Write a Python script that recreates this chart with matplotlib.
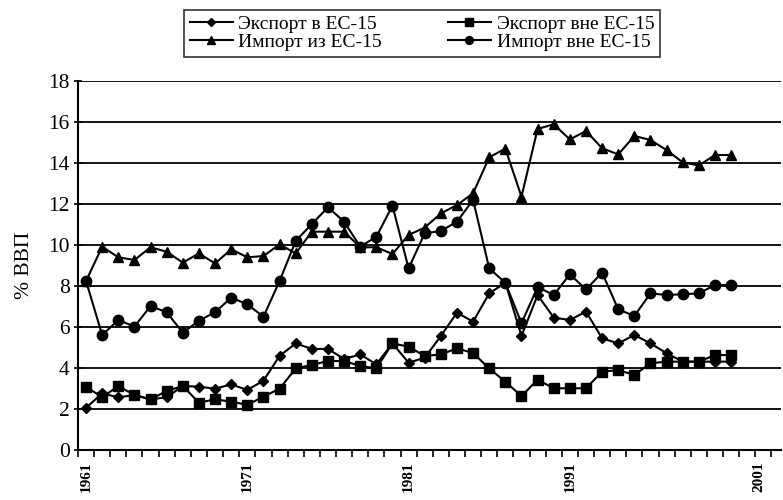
import matplotlib
matplotlib.use("Agg")
import matplotlib.pyplot as plt
from matplotlib.ticker import FixedLocator, MultipleLocator

plt.rcParams['font.family'] = ['Liberation Serif', 'DejaVu Serif']

years = list(range(1961, 2002))

export_in_eu = [2.06, 2.76, 2.57, 2.68, 2.47, 2.57, 3.12, 3.09, 2.99, 3.20,
                2.93, 3.38, 4.59, 5.20, 4.93, 4.93, 4.44, 4.66, 4.18, 5.20,
                4.26, 4.50, 5.56, 6.70, 6.26, 7.64, 8.16, 5.56, 7.56, 6.46,
                6.34, 6.75, 5.45, 5.20, 5.61, 5.20, 4.72, 4.31, 4.31, 4.31,
                4.31]
export_out_eu = [3.09, 2.57, 3.12, 2.68, 2.47, 2.88, 3.12, 2.31, 2.47, 2.36,
                 2.20, 2.60, 2.99, 3.98, 4.15, 4.34, 4.34, 4.10, 3.98, 5.20,
                 5.04, 4.59, 4.66, 4.96, 4.73, 3.98, 3.33, 2.63, 3.43, 3.01,
                 3.01, 3.01, 3.82, 3.90, 3.66, 4.23, 4.31, 4.31, 4.31, 4.63,
                 4.63]
import_from_eu = [8.24, 9.92, 9.40, 9.27, 9.89, 9.67, 9.14, 9.59, 9.10, 9.79,
                  9.40, 9.46, 10.03, 9.59, 10.65, 10.65, 10.65, 9.89, 9.89, 9.56,
                  10.49, 10.85, 11.54, 11.95, 12.52, 14.28, 14.70, 12.36, 15.66, 15.89,
                  15.15, 15.56, 14.72, 14.42, 15.32, 15.12, 14.63, 14.03, 13.88, 14.39,
                  14.39]
import_out_eu = [8.24, 5.61, 6.34, 6.02, 7.02, 6.72, 5.72, 6.31, 6.72, 7.43,
                 7.11, 6.50, 8.24, 10.20, 11.02, 11.84, 11.14, 9.92, 10.40, 11.92,
                 8.86, 10.57, 10.68, 11.14, 12.20, 8.86, 8.16, 6.18, 7.95, 7.56,
                 8.57, 7.83, 8.65, 6.86, 6.54, 7.64, 7.56, 7.60, 7.64, 8.05,
                 8.05]

series_labels = ['Экспорт в ЕС-15', 'Экспорт вне ЕС-15',
                 'Импорт из ЕС-15', 'Импорт вне ЕС-15']
tick_labels = ['1961', '1971', '1981', '1991', '2001']
tick_positions = [1961, 1971, 1981, 1991, 2002.7]
y_label = '% ВВП'

fig = plt.figure(figsize=(7.83, 5.0), dpi=100)
ax = fig.add_axes([0.0996, 0.10, 0.898, 0.738])

lw = 1.5
h1, = ax.plot(years, export_in_eu, color='black', lw=lw, marker='D', ms=5.5, label=series_labels[0])
h2, = ax.plot(years, export_out_eu, color='black', lw=lw, marker='s', ms=7, label=series_labels[1])
h3, = ax.plot(years, import_from_eu, color='black', lw=lw, marker='^', ms=7.5, label=series_labels[2])
h4, = ax.plot(years, import_out_eu, color='black', lw=lw, marker='o', ms=7.5, label=series_labels[3])

ax.set_ylim(0, 18)
ax.set_xlim(1960.5, 2004.1)
ax.yaxis.set_major_locator(MultipleLocator(2))
ax.grid(axis='y', color='black', lw=1.3)
ax.set_axisbelow(True)

ax.xaxis.set_major_locator(FixedLocator(tick_positions))
ax.set_xticklabels(tick_labels, rotation=90, fontsize=11, fontweight='bold')
ax.xaxis.set_minor_locator(FixedLocator([y + 0.5 for y in range(1960, 2004)]))
ax.tick_params(axis='x', which='major', length=0, pad=8)
ax.tick_params(axis='x', which='minor', length=5, width=1.2, direction='out')
ax.tick_params(axis='y', which='major', length=6, width=1.2, direction='inout', labelsize=15.5, pad=3)

for s in ['top', 'right']:
    ax.spines[s].set_visible(False)
for s in ['left', 'bottom']:
    ax.spines[s].set_linewidth(1.5)
    ax.spines[s].set_color('black')

ax.set_ylabel(y_label, fontsize=15.5, labelpad=10)

leg = fig.legend([h1, h3, h2, h4],
                 [series_labels[0], series_labels[2], series_labels[1], series_labels[3]],
                 ncol=2, loc='upper center', bbox_to_anchor=(0.539, 1.0),
                 fontsize=14, frameon=True, fancybox=False, edgecolor='black',
                 handlelength=2.2, handletextpad=0.3, labelspacing=0.0,
                 columnspacing=3.4, borderpad=0.3, markerscale=0.75)
leg.get_frame().set_linewidth(1.2)

fig.savefig('out.png', dpi=100)
